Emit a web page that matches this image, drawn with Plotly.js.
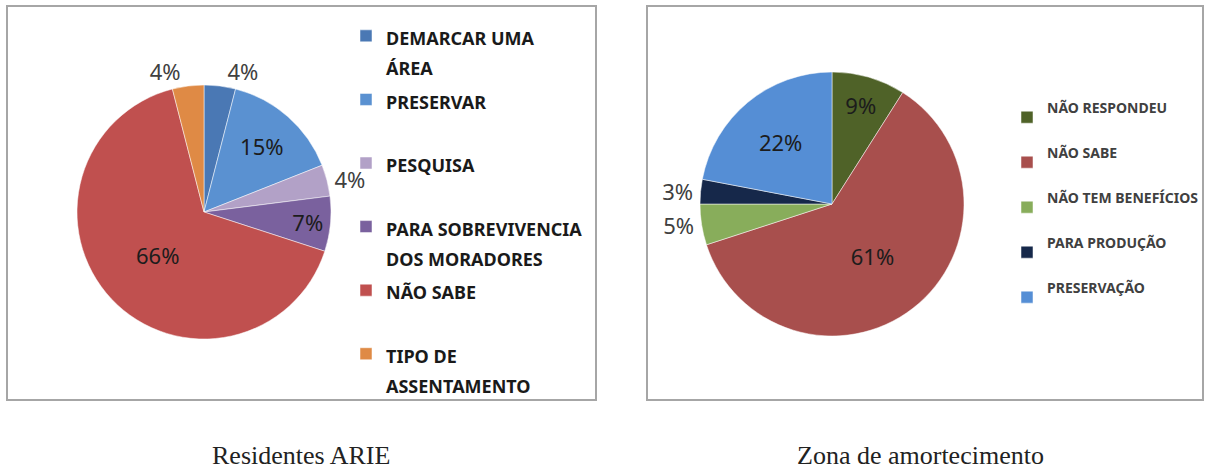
<!DOCTYPE html>
<html>
<head>
<meta charset="utf-8">
<script src="https://cdn.plot.ly/plotly-3.0.1.min.js"></script>
<style>
  html, body { margin: 0; padding: 0; background: #ffffff; }
  #chart { width: 1211px; height: 472px; }
</style>
</head>
<body>
<div id="chart"></div>
<script>
// ---- Data: Residentes ARIE ----
const ariaCategories = [
  ['DEMARCAR UMA', 'ÁREA'],
  ['PRESERVAR'],
  ['PESQUISA'],
  ['PARA SOBREVIVENCIA', 'DOS MORADORES'],
  ['NÃO SABE'],
  ['TIPO DE', 'ASSENTAMENTO']
];
const ariaValues = [4, 15, 4, 7, 66, 4];
const ariaColors = ['#4A78B4', '#5A91D1', '#B2A1C7', '#7A619E', '#C0504F', '#DF8A45'];
const ariaTextPos = ['outside', 'inside', 'outside', 'inside', 'inside', 'outside'];
const ariaCaption = 'Residentes ARIE';

// ---- Data: Zona de amortecimento ----
const zonaCategories = ['NÃO RESPONDEU', 'NÃO SABE', 'NÃO TEM BENEFÍCIOS', 'PARA PRODUÇÃO', 'PRESERVAÇÃO'];
const zonaValues = [9, 61, 5, 3, 22];
const zonaColors = ['#4F6228', '#A84F4D', '#88AD5B', '#16284A', '#558ED5'];
const zonaTextPos = ['inside', 'inside', 'outside', 'outside', 'inside'];
const zonaCaption = 'Zona de amortecimento';

// ---- Layout helpers ----
const W = 1211, H = 472;
const px = v => v / W;
const py = v => 1 - v / H;

// legend label builders (padding lines keep equal item spacing)
function leftLabel(lines) {
  const parts = lines.map(t => '<span style="font-size:18px"><b>' + t + '</b></span>');
  while (parts.length < 2) parts.push(' ');
  return parts.join('<br>');
}
function rightLabel(t) {
  return '<span style="font-size:14px"><b>' + t + '</b></span><br> ';
}

const insideFont = {family: 'Noto Sans, sans-serif', size: 22, color: '#1c1c1c'};
const outsideFont = {family: 'Noto Sans, sans-serif', size: 22, color: '#404040'};

const traceA = {
  type: 'pie',
  labels: ariaCategories.map(leftLabel),
  values: ariaValues,
  sort: false,
  direction: 'clockwise',
  rotation: 0,
  marker: {colors: ariaColors, line: {color: '#ffffff', width: 0.5}},
  textinfo: 'percent',
  texttemplate: '%{percent:.0%}',
  textposition: ariaTextPos,
  insidetextorientation: 'horizontal',
  insidetextfont: insideFont,
  outsidetextfont: outsideFont,
  domain: {x: [px(77), px(331)], y: [py(339), py(85)]},
  legend: 'legend',
  hoverinfo: 'none'
};

const traceB = {
  type: 'pie',
  labels: zonaCategories.map(rightLabel),
  values: zonaValues,
  sort: false,
  direction: 'clockwise',
  rotation: 0,
  marker: {colors: zonaColors, line: {color: '#ffffff', width: 0.5}},
  textinfo: 'percent',
  texttemplate: '%{percent:.0%}',
  textposition: zonaTextPos,
  insidetextorientation: 'horizontal',
  insidetextfont: insideFont,
  outsidetextfont: outsideFont,
  domain: {x: [px(700), px(964)], y: [py(336), py(72)]},
  legend: 'legend2',
  hoverinfo: 'none'
};

const boxLine = {color: '#a6a6a6', width: 2};

const layout = {
  width: W, height: H,
  margin: {l: 0, r: 0, t: 0, b: 0},
  paper_bgcolor: '#ffffff',
  plot_bgcolor: '#ffffff',
  showlegend: true,
  legend: {
    x: px(346), xanchor: 'left', y: py(14.2), yanchor: 'top',
    font: {family: 'Noto Sans, sans-serif', size: 23.3, color: '#1a1a1a'},
    valign: 'top',
    bgcolor: 'rgba(0,0,0,0)'
  },
  legend2: {
    x: px(1007), xanchor: 'left', y: py(89.7), yanchor: 'top',
    font: {family: 'Noto Sans, sans-serif', size: 16.15, color: '#404040'},
    valign: 'middle',
    bgcolor: 'rgba(0,0,0,0)'
  },
  shapes: [
    {type: 'rect', xref: 'paper', yref: 'paper', x0: px(7), x1: px(596), y0: py(400), y1: py(6), line: boxLine},
    {type: 'rect', xref: 'paper', yref: 'paper', x0: px(647), x1: px(1203), y0: py(400), y1: py(6), line: boxLine}
  ],
  annotations: [
    {text: ariaCaption, xref: 'paper', yref: 'paper', x: px(301), y: py(455), xanchor: 'center', yanchor: 'middle',
     showarrow: false, font: {family: 'Liberation Serif, serif', size: 26, color: '#222222'}},
    {text: zonaCaption, xref: 'paper', yref: 'paper', x: px(920), y: py(455), xanchor: 'center', yanchor: 'middle',
     showarrow: false, font: {family: 'Liberation Serif, serif', size: 26, color: '#222222'}}
  ]
};

Plotly.newPlot('chart', [traceA, traceB], layout, {displayModeBar: false, staticPlot: true});
</script>
</body>
</html>
